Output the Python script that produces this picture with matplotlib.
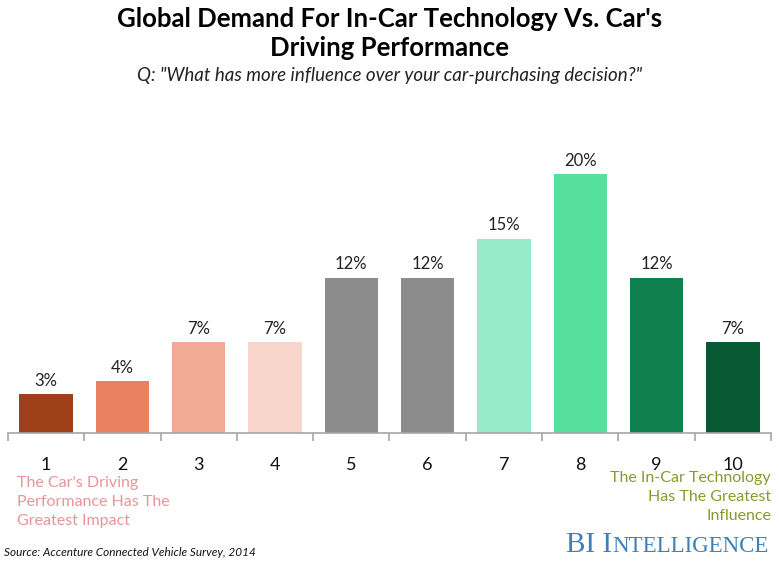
import matplotlib.pyplot as plt

# data
categories = ['1', '2', '3', '4', '5', '6', '7', '8', '9', '10']
values = [3, 4, 7, 7, 12, 12, 15, 20, 12, 7]
colors = ['#A0401A', '#EB8060', '#F2AA97', '#F8D5CA', '#8C8C8C',
          '#8C8C8C', '#98EBC8', '#55E09E', '#10804F', '#085A35']

plt.rcParams['font.family'] = ['Lato', 'DejaVu Sans']

fig = plt.figure(figsize=(7.79, 5.64), dpi=100)
W, H = 779, 564
# axes from x=8..771 px, baseline at y=433, top at y=148
ax = fig.add_axes([8 / W, (H - 433) / H, 763 / W, 285 / H])

x = list(range(len(categories)))
ax.bar(x, values, width=0.7, color=colors)
for xi, v in zip(x, values):
    ax.text(xi, v + 0.4, f'{v}%', ha='center', va='bottom', fontsize=12, color='#222222')

ax.set_xlim(-0.5, len(categories) - 0.5)
ax.set_ylim(0, 22)
ax.set_yticks([])
for s in ['top', 'right', 'left']:
    ax.spines[s].set_visible(False)
ax.spines['bottom'].set_color('#A6A6A6')
ax.spines['bottom'].set_linewidth(1.2)

# tick marks at category boundaries, labels at centers
ax.set_xticks([i - 0.5 for i in range(len(categories) + 1)], minor=False)
ax.set_xticklabels([])
ax.tick_params(axis='x', which='major', length=6, color='#A6A6A6', width=1.2)
ax.set_xticks(x, minor=True)
ax.set_xticklabels(categories, minor=True, fontsize=13, color='#111111')
ax.tick_params(axis='x', which='minor', length=0, pad=17)

# titles
fig.text(0.5, 1 - 19 / H, "Global Demand For In-Car Technology Vs. Car's",
         ha='center', va='center', fontsize=18.5, fontweight='bold')
fig.text(0.5, 1 - 48 / H, 'Driving Performance',
         ha='center', va='center', fontsize=18.5, fontweight='bold')
fig.text(0.5, 1 - 76 / H, 'Q: "What has more influence over your car-purchasing decision?"',
         ha='center', va='center', fontsize=13.5, style='italic', color='#222222')

# end annotations
fig.text(17 / W, 1 - 502 / H, "The Car's Driving\nPerformance Has The\nGreatest Impact",
         ha='left', va='center', fontsize=11.5, color='#E8949A', linespacing=1.45)
fig.text(771 / W, 1 - 497 / H, 'The In-Car Technology\nHas The Greatest\nInfluence',
         ha='right', va='center', fontsize=11.5, color='#8A9A2A', linespacing=1.45)

fig.text(4 / W, 1 - 553 / H, 'Source: Accenture Connected Vehicle Survey, 2014',
         ha='left', va='center', fontsize=8.5, style='italic', color='#111111')

# logo-ish text with small caps
logo_y = 1 - 552 / H
t1 = fig.text(566 / W, logo_y, 'BI I', ha='left', va='baseline', fontsize=21,
              family='Liberation Serif', color='#3E7FB8')
renderer = fig.canvas.get_renderer()
bb = t1.get_window_extent(renderer)
fig.text(bb.x1 / W + 0.5 / W, logo_y, 'NTELLIGENCE', ha='left', va='baseline', fontsize=16.5,
         family='Liberation Serif', color='#3E7FB8')

fig.savefig('out.png', dpi=100)
